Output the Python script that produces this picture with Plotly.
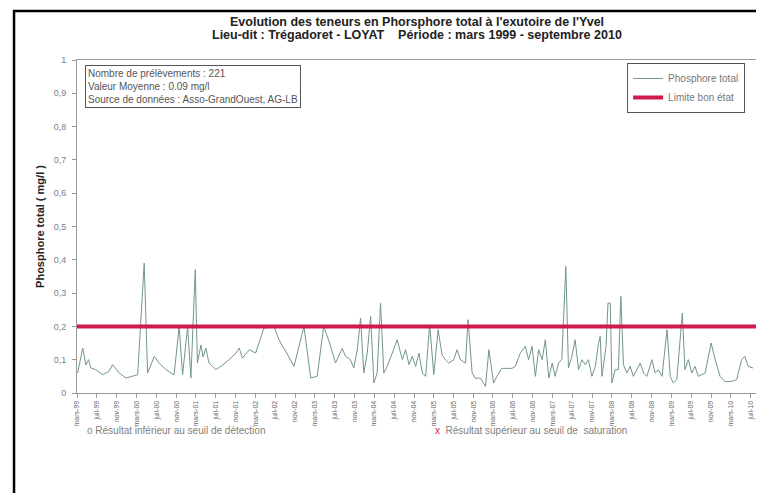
import plotly.graph_objects as go

# ---------------- data ----------------
sample_dates = [
    "1999-03-05", "1999-04-05", "1999-04-25", "1999-05-11", "1999-05-25", "1999-06-25", "1999-08-06",
    "1999-09-14", "1999-10-06", "1999-11-16", "1999-12-27", "2000-02-07", "2000-03-08", "2000-04-17",
    "2000-05-08", "2000-05-28", "2000-06-18", "2000-07-18", "2000-08-18", "2000-09-28", "2000-10-18",
    "2000-11-18", "2000-12-09", "2001-01-09", "2001-01-29", "2001-02-25", "2001-03-10", "2001-04-01",
    "2001-04-14", "2001-05-01", "2001-05-20", "2001-06-11", "2001-07-01", "2001-08-12", "2001-09-21",
    "2001-11-02", "2001-11-22", "2001-12-12", "2002-01-03", "2002-01-23",
    "2002-03-03", "2002-04-23", "2002-06-24", "2002-07-24", "2002-09-10", "2002-10-25", "2002-12-25",
    "2003-02-05", "2003-03-16", "2003-04-26", "2003-06-01", "2003-07-07", "2003-08-17", "2003-09-07",
    "2003-10-07", "2003-10-27", "2003-11-18", "2003-12-08", "2003-12-28", "2004-01-18", "2004-02-08",
    "2004-02-28", "2004-03-19", "2004-04-09", "2004-04-29", "2004-05-20", "2004-06-20", "2004-07-20",
    "2004-08-21", "2004-09-10", "2004-10-01", "2004-10-21", "2004-11-11",
    "2004-12-01", "2004-12-22", "2005-01-11", "2005-02-05", "2005-03-02", "2005-03-29", "2005-04-22",
    "2005-05-12", "2005-06-02", "2005-07-03", "2005-07-23", "2005-08-13", "2005-09-13", "2005-09-29",
    "2005-10-24", "2005-11-13", "2005-12-14", "2006-01-14", "2006-02-04", "2006-03-05", "2006-03-25",
    "2006-04-25", "2006-06-26", "2006-07-16", "2006-08-16", "2006-09-16", "2006-10-06", "2006-10-27",
    "2006-11-17", "2006-12-07", "2006-12-28", "2007-01-17", "2007-02-07", "2007-02-28", "2007-03-18",
    "2007-04-08", "2007-04-28", "2007-05-23", "2007-06-08", "2007-06-29", "2007-07-19", "2007-08-09",
    "2007-08-30", "2007-09-19",
    "2007-10-09", "2007-10-30", "2007-11-20", "2007-12-10", "2007-12-20", "2007-12-31", "2008-01-10",
    "2008-01-25", "2008-02-06", "2008-02-20", "2008-03-01", "2008-03-21", "2008-04-10", "2008-04-25",
    "2008-05-11", "2008-06-01", "2008-06-21", "2008-07-11", "2008-08-01", "2008-08-22", "2008-09-12",
    "2008-10-02", "2008-11-02", "2008-11-22", "2008-12-12", "2009-01-03", "2009-02-03", "2009-02-23",
    "2009-03-13", "2009-04-04", "2009-05-08", "2009-05-24", "2009-06-14", "2009-07-05", "2009-07-25",
    "2009-08-14", "2009-09-25", "2009-11-01", "2009-11-26", "2009-12-26", "2010-01-26", "2010-03-07",
    "2010-04-07", "2010-05-07", "2010-05-27", "2010-06-17", "2010-07-17",
]

phosphore_total = [
    0.06, 0.135, 0.084, 0.10, 0.075, 0.07, 0.055,
    0.065, 0.085, 0.06, 0.045, 0.05, 0.055, 0.39,
    0.06, 0.084, 0.11, 0.09, 0.075, 0.06, 0.055,
    0.20, 0.055, 0.20, 0.045, 0.37, 0.09, 0.144,
    0.108, 0.135, 0.09, 0.08, 0.07, 0.084, 0.10,
    0.12, 0.135, 0.105, 0.12, 0.13,
    0.12, 0.195, 0.20, 0.16, 0.12, 0.08, 0.20,
    0.045, 0.05, 0.20, 0.15, 0.09, 0.134, 0.11,
    0.10, 0.075, 0.13, 0.225, 0.06, 0.12, 0.23,
    0.03, 0.06, 0.27, 0.06, 0.08, 0.12, 0.16,
    0.10, 0.13, 0.085, 0.11, 0.08,
    0.12, 0.06, 0.05, 0.205, 0.055, 0.19, 0.114,
    0.10, 0.09, 0.10, 0.13, 0.10, 0.09, 0.22,
    0.06, 0.044, 0.045, 0.02, 0.13, 0.03, 0.05,
    0.074, 0.074, 0.08, 0.12, 0.14, 0.10, 0.14,
    0.05, 0.13, 0.10, 0.16, 0.045, 0.09, 0.05,
    0.09, 0.10, 0.38, 0.075, 0.11, 0.16, 0.07,
    0.10, 0.085,
    0.10, 0.05, 0.08, 0.15, 0.17, 0.05, 0.084,
    0.14, 0.27, 0.27, 0.03, 0.07, 0.07, 0.29,
    0.085, 0.06, 0.08, 0.05, 0.07, 0.09, 0.06,
    0.05, 0.10, 0.06, 0.07, 0.05, 0.19, 0.05,
    0.03, 0.04, 0.24, 0.07, 0.10, 0.06, 0.08,
    0.05, 0.06, 0.15, 0.10, 0.05, 0.034, 0.035,
    0.04, 0.10, 0.11, 0.08, 0.075,
]

limite_bon_etat = 0.2
axis_start = "1999-03-01"
axis_end = "2010-08-10"

tick_dates = [
    "1999-03-01", "1999-07-01", "1999-11-01",
    "2000-03-01", "2000-07-01", "2000-11-01",
    "2001-03-01", "2001-07-01", "2001-11-01",
    "2002-03-01", "2002-07-01", "2002-11-01",
    "2003-03-01", "2003-07-01", "2003-11-01",
    "2004-03-01", "2004-07-01", "2004-11-01",
    "2005-03-01", "2005-07-01", "2005-11-01",
    "2006-03-01", "2006-07-01", "2006-11-01",
    "2007-03-01", "2007-07-01", "2007-11-01",
    "2008-03-01", "2008-07-01", "2008-11-01",
    "2009-03-01", "2009-07-01", "2009-11-01",
    "2010-03-01", "2010-07-01",
]
tick_labels = [
    "mars-99", "juil-99", "nov-99",
    "mars-00", "juil-00", "nov-00",
    "mars-01", "juil-01", "nov-01",
    "mars-02", "juil-02", "nov-02",
    "mars-03", "juil-03", "nov-03",
    "mars-04", "juil-04", "nov-04",
    "mars-05", "juil-05", "nov-05",
    "mars-06", "juil-06", "nov-06",
    "mars-07", "juil-07", "nov-07",
    "mars-08", "juil-08", "nov-08",
    "mars-09", "juil-09", "nov-09",
    "mars-10", "juil-10",
]
y_ticks = [0, 0.1, 0.2, 0.3, 0.4, 0.5, 0.6, 0.7, 0.8, 0.9, 1]

FONT = "Liberation Sans, Arial, sans-serif"

fig = go.Figure()
fig.add_trace(go.Scatter(
    x=sample_dates, y=phosphore_total, mode="lines", name="Phosphore total",
    line=dict(color="#72968f", width=1),
))
fig.add_trace(go.Scatter(
    x=[axis_start, axis_end], y=[limite_bon_etat, limite_bon_etat], mode="lines",
    name="Limite bon état", line=dict(color="#d01a4c", width=4),
))

fig.update_layout(
    width=756, height=485, autosize=False,
    margin=dict(l=69, r=7, t=52, b=100),
    paper_bgcolor="white", plot_bgcolor="white",
    separators=",.",
    font=dict(family=FONT, size=8, color="#666666"),
    showlegend=True,
    legend=dict(
        x=0.809, y=0.991, xanchor="left", yanchor="top",
        bgcolor="white", bordercolor="#555555", borderwidth=1,
        font=dict(size=10, color="#777777"),
        tracegroupgap=0, itemwidth=30,
    ),
    xaxis=dict(
        type="date", range=[axis_start, axis_end],
        tickmode="array", tickvals=tick_dates, ticktext=tick_labels,
        tickangle=-90, tickfont=dict(size=7, color="#666666"),
        ticks="outside", ticklen=4, tickcolor="#999999",
        showline=True, linecolor="#999999", linewidth=1, mirror=True,
        showgrid=False, zeroline=False,
    ),
    yaxis=dict(
        range=[0, 1], tickmode="array", tickvals=y_ticks,
        tickfont=dict(size=9, color="#808080"),
        ticks="outside", ticklen=4, tickcolor="#999999", ticklabelstandoff=4,
        showline=True, linecolor="#999999", linewidth=1, mirror=True,
        showgrid=False, zeroline=False,
        title=dict(text="<b>Phosphore total ( mg/l )</b>",
                   font=dict(size=11, color="#222222"), standoff=6),
    ),
)

# Title (two lines)
fig.add_annotation(
    xref="paper", yref="paper", x=0.5, y=1.114, xanchor="center", yanchor="middle",
    text="<b>Evolution des teneurs en Phorsphore total à l'exutoire de l'Yvel</b>",
    showarrow=False, font=dict(family=FONT, size=12.5, color="#222222"),
)
fig.add_annotation(
    xref="paper", yref="paper", x=0.5, y=1.075, xanchor="center", yanchor="middle",
    text="<b>Lieu-dit : Trégadoret - LOYAT    Période : mars 1999 - septembre 2010</b>",
    showarrow=False, font=dict(family=FONT, size=12.5, color="#222222"),
)

# Info box
fig.add_annotation(
    xref="paper", yref="paper", x=0.012, y=0.985, xanchor="left", yanchor="top",
    text="Nombre de prélèvements : 221<br>Valeur Moyenne : 0.09 mg/l<br>"
         "Source de données : Asso-GrandOuest, AG-LB",
    showarrow=False, align="left",
    bordercolor="#555555", borderwidth=1, borderpad=2, bgcolor="white",
    font=dict(family=FONT, size=10, color="#555555"),
)

# Bottom notes
fig.add_annotation(
    xref="paper", yref="paper", x=0.012, y=-0.114, xanchor="left", yanchor="middle",
    text="<span style='color:#888888'>o</span> Résultat inférieur au seuil de détection",
    showarrow=False, font=dict(family=FONT, size=10, color="#808080"),
)
fig.add_annotation(
    xref="paper", yref="paper", x=0.523, y=-0.114, xanchor="left", yanchor="middle",
    text="<span style='color:#d01a4c'>x</span>  Résultat supérieur au seuil de  saturation",
    showarrow=False, font=dict(family=FONT, size=10, color="#808080"),
)

# Outer black frame
fig.add_shape(
    type="rect", xref="paper", yref="paper",
    x0=-0.0926, x1=1.003, y0=-0.33, y1=1.147,
    line=dict(color="black", width=2.5), layer="above",
)

fig.write_html("out.html")
